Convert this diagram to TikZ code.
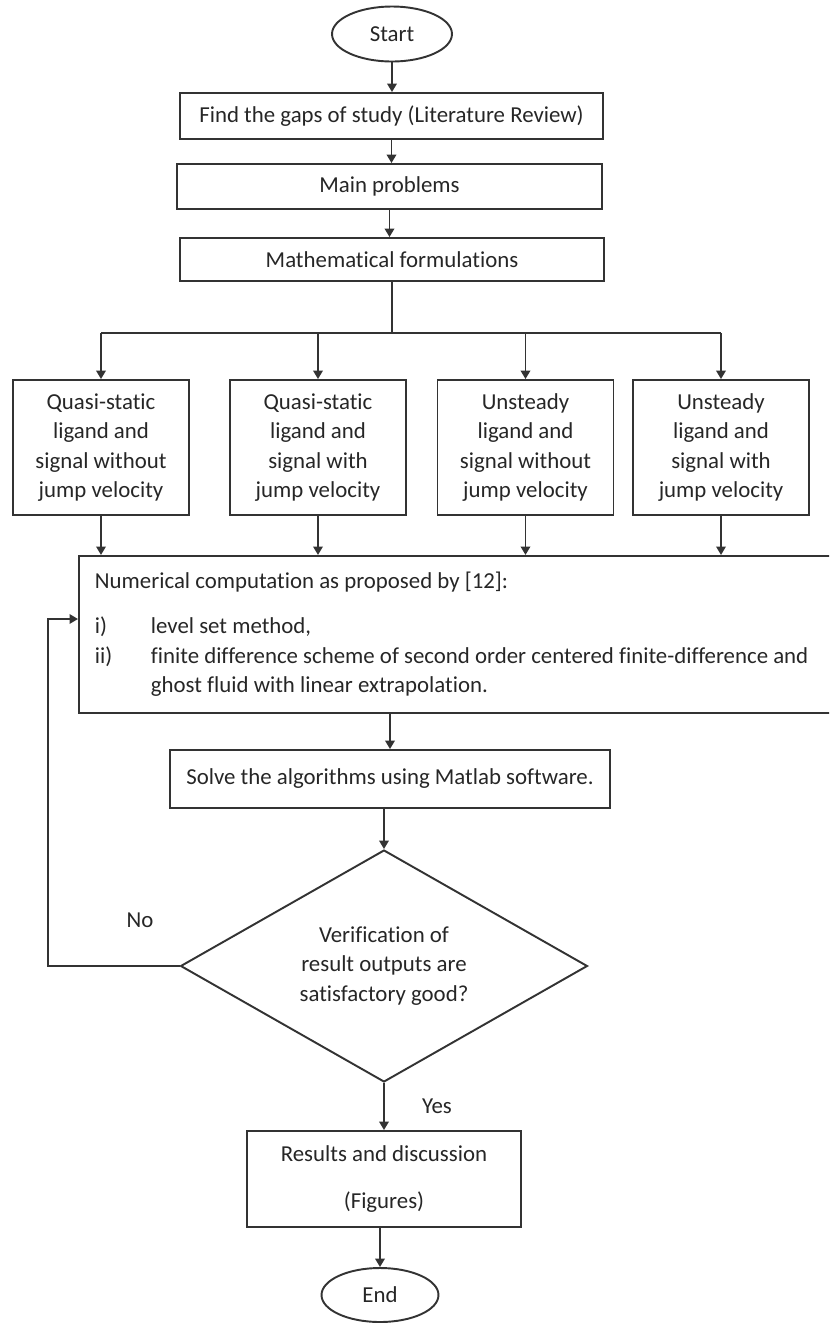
\documentclass[tikz,border=0pt]{standalone}
\usepackage{fontspec}
\setmainfont{Carlito}[Ligatures=NoCommon]
\usetikzlibrary{shapes.geometric,arrows.meta}

\begin{document}
\begin{tikzpicture}[x=0.02cm,y=-0.02cm,
  font=\fontsize{13}{16.8}\selectfont,
  every node/.style={text=black!85},
  line/.style={draw=black!80,line width=1.1pt},
  arrow/.style={line,-{Triangle[length=0.17cm,width=0.19cm]}},
  terminal/.style={line,ellipse,inner sep=0pt},
  process/.style={line,rectangle,inner sep=0pt,align=center},
  casebox/.style={process,minimum width=3.52cm,minimum height=2.7cm},
  decision/.style={line,diamond,aspect=1.75,inner sep=0pt,align=center}]

% Page frame (the wide box runs past the right edge)
\useasboundingbox (0,0) rectangle (829,1323);
\clip (0,0) rectangle (829,1323);

% Top part of the chart
\node[terminal,minimum width=2.4cm,minimum height=1.1cm] (start) at (392,34) {Start};
\node[process,minimum width=8.46cm,minimum height=0.92cm] (gaps) at (391.5,116)
  {Find the gaps of study (Literature Review)};
\node[process,minimum width=8.5cm,minimum height=0.9cm] (main) at (389.5,186.5)
  {Main problems};
\node[process,minimum width=8.48cm,minimum height=0.86cm] (math) at (392,259.5)
  {Mathematical formulations};

\draw[arrow] (start) -- (start |- gaps.north);
\draw[arrow] (gaps.south) -- (gaps.south |- main.north);
\draw[arrow] (main.south) -- (main.south |- math.north);

% The four cases
\node[casebox] (qsno)   at (101,447.5)   {Quasi-static\\ligand and\\signal without\\jump velocity};
\node[casebox] (qswith) at (318,447.5)   {Quasi-static\\ligand and\\signal with\\jump velocity};
\node[casebox] (usno)   at (525.5,447.5) {Unsteady\\ligand and\\signal without\\jump velocity};
\node[casebox] (uswith) at (721,447.5)   {Unsteady\\ligand and\\signal with\\jump velocity};

\coordinate (split) at (392,333);
\draw[line] (math.south) -- (split);
\draw[line] (qsno.north |- split) -- (uswith.north |- split);
\foreach \n in {qsno,qswith,usno,uswith}
  \draw[arrow] (\n.north |- split) -- (\n.north);

% Numerical computation box
\node[process,anchor=north west,align=flush left,text width=14.8cm,inner xsep=0.32cm,
      minimum height=3.14cm] (num) at (78,555)
  {Numerical computation as proposed by [12]:\\[9pt]
   \makebox[1.12cm][l]{i)}level set method,\\
   \makebox[1.12cm][l]{ii)}finite difference scheme of second order centered finite-difference and\\
   \hspace*{1.12cm}ghost fluid with linear extrapolation.};

\foreach \n in {qsno,qswith,usno,uswith}
  \draw[arrow] (\n.south) -- (\n.south |- num.north);

% Solving and checking
\node[process,minimum width=8.8cm,minimum height=1.16cm] (solve) at (390,779)
  {Solve the algorithms using Matlab software.};
\draw[arrow] (solve.north |- num.south) -- (solve.north);

\node[decision,minimum width=8.14cm,minimum height=4.64cm] (check) at (384,966)
  {Verification of\\result outputs are\\satisfactory good?};
\draw[arrow] (check.north |- solve.south) -- (check.north);

% Loop back when the check fails
\coordinate (back) at (48,619);
\draw[arrow] (check.west) -| (back) -- (back -| num.west);
\node (no) at (140,920) {No};

% End of the chart
\node[process,minimum width=5.48cm,minimum height=1.92cm] (results) at (384,1179)
  {Results and discussion\\[10pt](Figures)};
\draw[arrow] (check.south) -- (results.north);
\node (yes) at (437,1106) {Yes};

\node[terminal,minimum width=2.34cm,minimum height=1.08cm] (end) at (380,1295) {End};
\draw[arrow] (end.north |- results.south) -- (end.north);
\end{tikzpicture}
\end{document}
